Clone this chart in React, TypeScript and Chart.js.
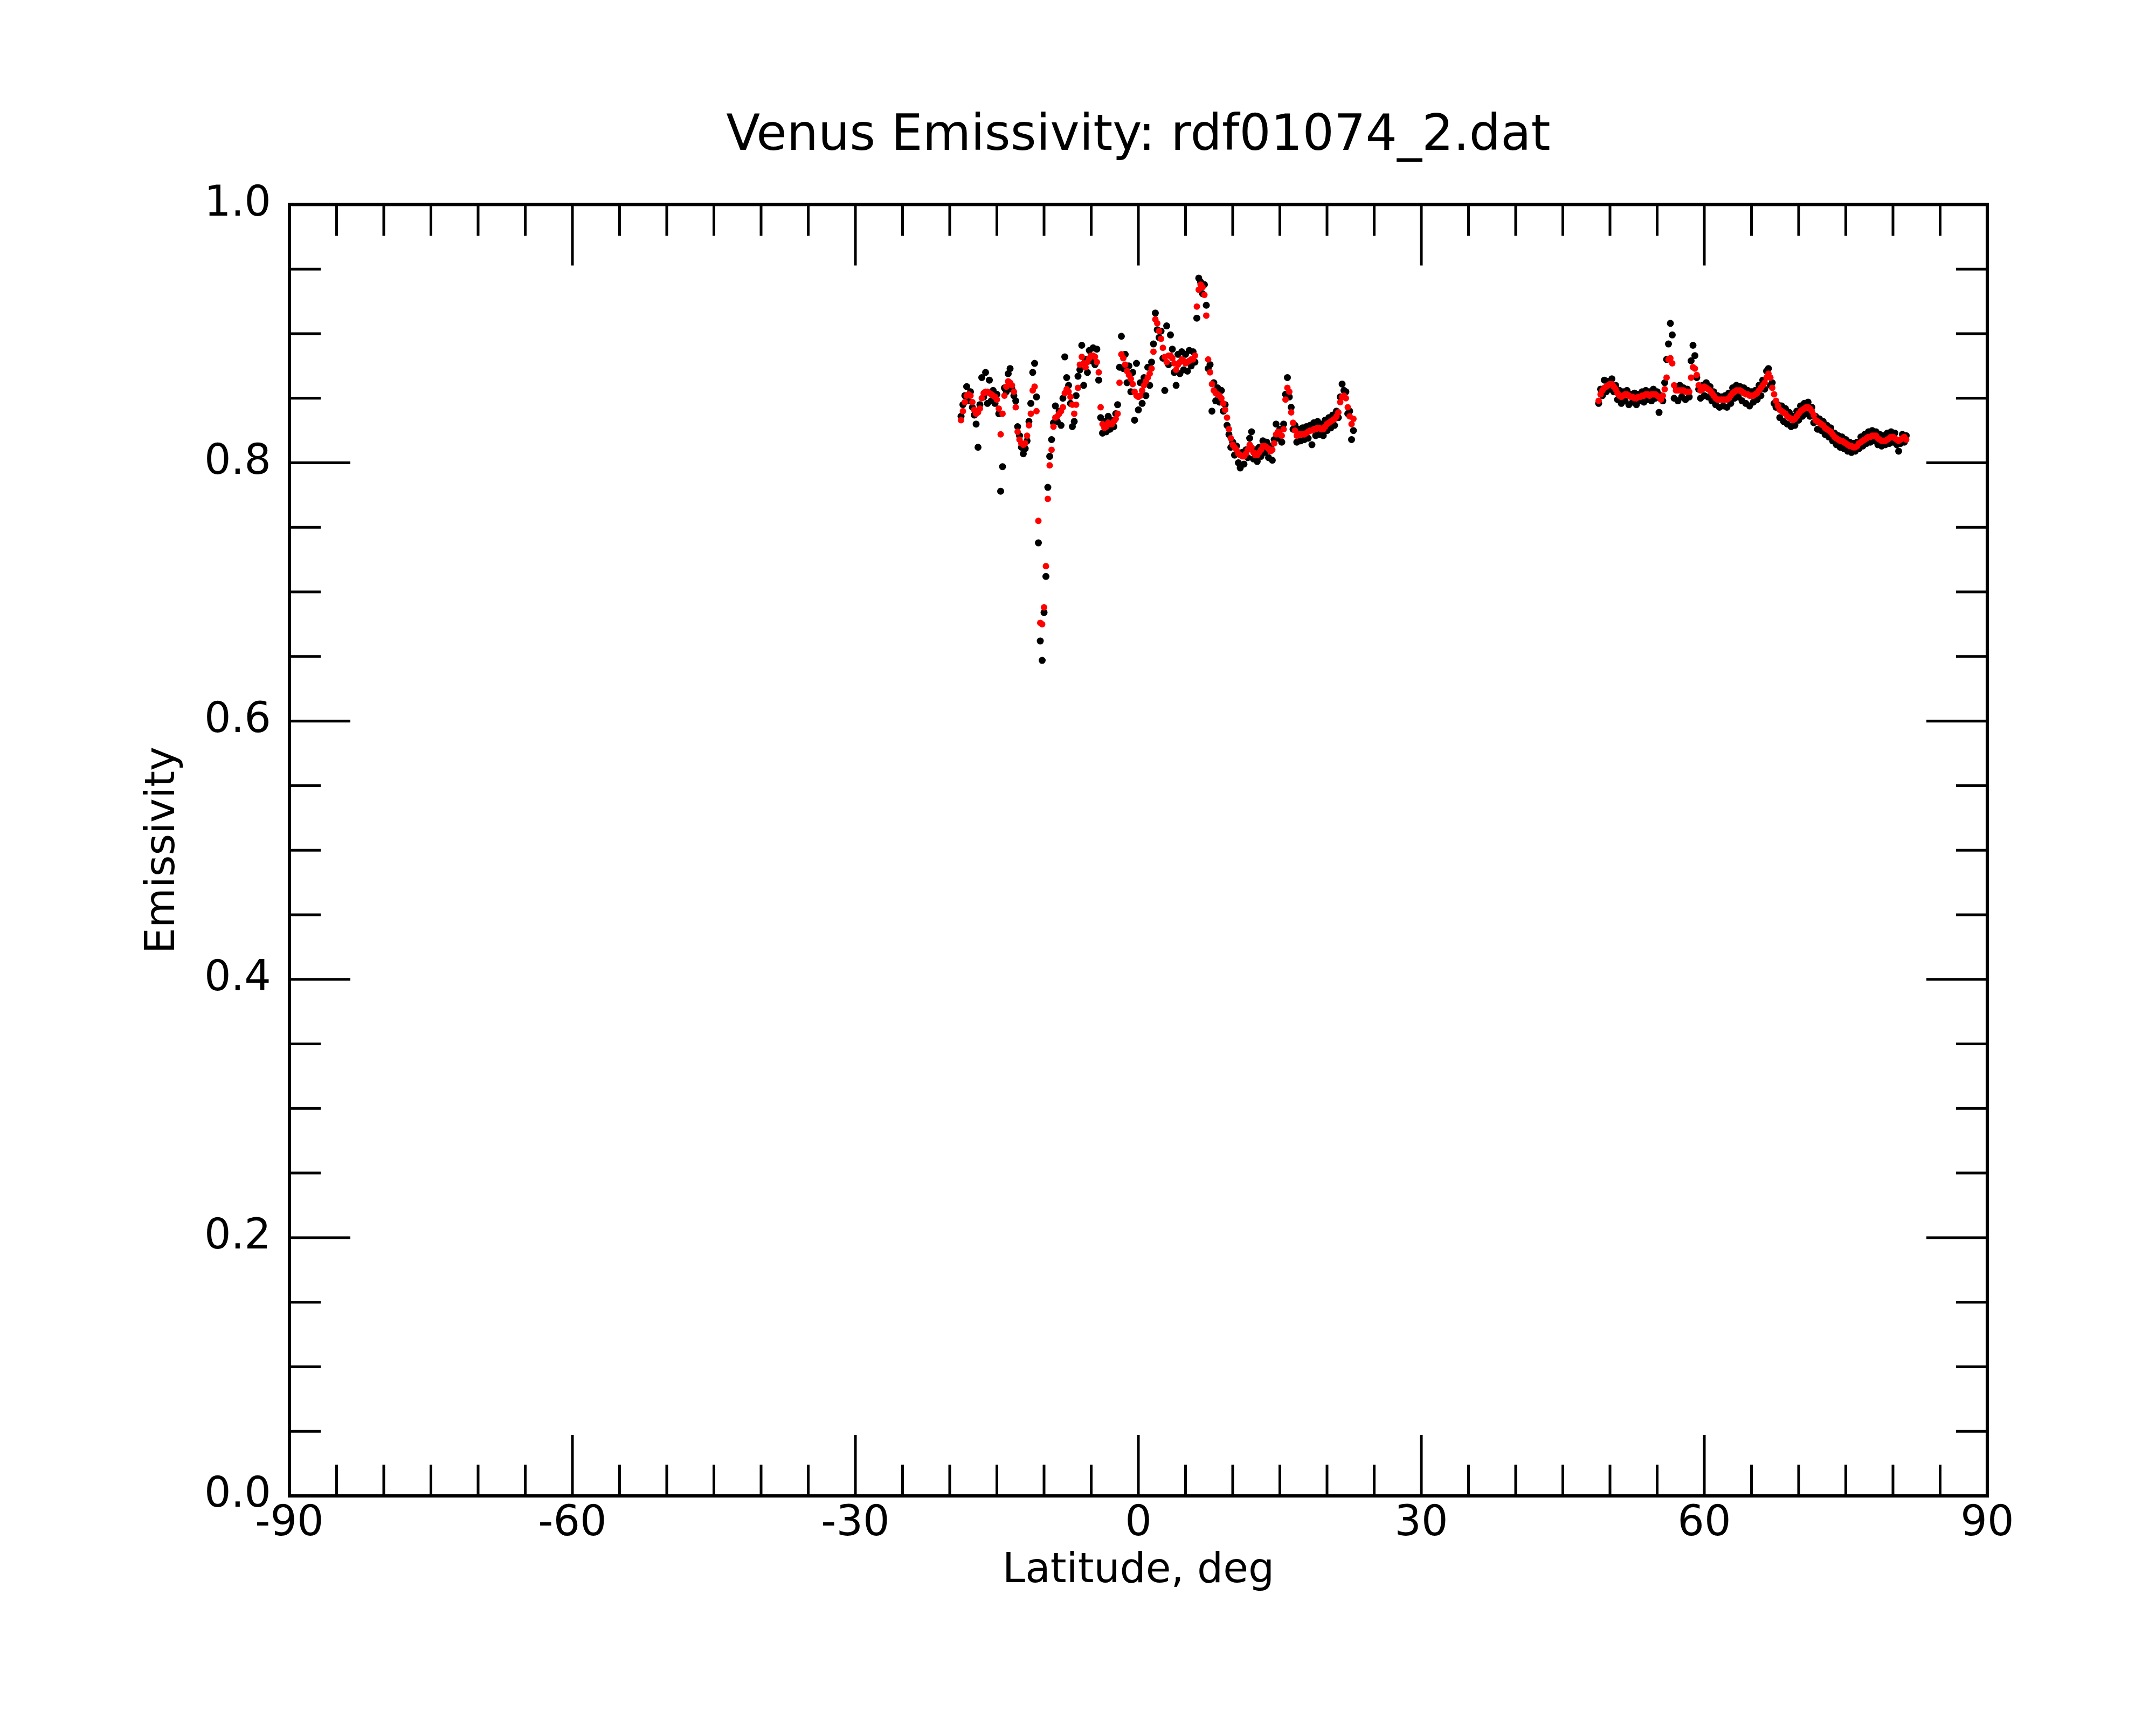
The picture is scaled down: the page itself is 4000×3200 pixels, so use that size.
import { useEffect, useRef } from 'react'
import { Chart, registerables } from 'chart.js'
Chart.register(...registerables)

// latitude grid of the samples (deg)
const LAT_STEP = 0.2
const SEG1_START = -18.8
const SEG2_START = 48.8

// smoothed emissivity (red), segment 1: -18.8 .. 22.8
const smooth1 = [
  0.833, 0.840, 0.847, 0.852, 0.853, 0.852, 0.847, 0.841, 0.838, 0.839,
  0.842, 0.850, 0.854, 0.855, 0.855, 0.854, 0.853, 0.852, 0.851, 0.849,
  0.842, 0.822, 0.838, 0.852, 0.859, 0.863, 0.862, 0.860, 0.855, 0.843,
  0.824, 0.818, 0.815, 0.814, 0.815, 0.821, 0.829, 0.838, 0.856, 0.859,
  0.840, 0.755, 0.676, 0.675, 0.688, 0.720, 0.772, 0.798, 0.810, 0.828,
  0.835, 0.836, 0.838, 0.840, 0.843, 0.854, 0.857, 0.855, 0.851, 0.845,
  0.838, 0.845, 0.858, 0.876, 0.882, 0.877, 0.874, 0.878, 0.881, 0.883,
  0.883, 0.882, 0.878, 0.870, 0.843, 0.830, 0.827, 0.828, 0.831, 0.830,
  0.830, 0.832, 0.834, 0.838, 0.862, 0.884, 0.881, 0.876, 0.871, 0.868,
  0.865, 0.861, 0.855, 0.852, 0.851, 0.852, 0.856, 0.860, 0.863, 0.866,
  0.869, 0.873, 0.886, 0.911, 0.908, 0.902, 0.896, 0.889, 0.882, 0.878,
  0.883, 0.883, 0.881, 0.877, 0.872, 0.876, 0.878, 0.880, 0.879, 0.877,
  0.878, 0.879, 0.880, 0.880, 0.883, 0.921, 0.934, 0.938, 0.936, 0.930,
  0.914, 0.880, 0.870, 0.861, 0.856, 0.854, 0.853, 0.852, 0.850, 0.846,
  0.841, 0.835, 0.826, 0.819, 0.814, 0.812, 0.810, 0.807, 0.806, 0.805,
  0.805, 0.807, 0.810, 0.814, 0.812, 0.808, 0.806, 0.806, 0.808, 0.810,
  0.813, 0.813, 0.812, 0.811, 0.809, 0.810, 0.815, 0.822, 0.824, 0.822,
  0.821, 0.826, 0.849, 0.858, 0.855, 0.839, 0.831, 0.825, 0.821, 0.822,
  0.822, 0.822, 0.822, 0.823, 0.824, 0.825, 0.825, 0.826, 0.826, 0.827,
  0.827, 0.826, 0.826, 0.828, 0.830, 0.831, 0.832, 0.833, 0.834, 0.836,
  0.839, 0.847, 0.851, 0.852, 0.850, 0.843, 0.836, 0.830, 0.834,
]

// raw emissivity (black), segment 1
const raw1 = [
  0.836, 0.845, 0.852, 0.859, 0.848, 0.855, 0.843, 0.837, 0.830, 0.812,
  0.845, 0.866, 0.851, 0.870, 0.846, 0.864, 0.848, 0.856, 0.846, 0.853,
  0.838, 0.778, 0.797, 0.858, 0.855, 0.869, 0.873, 0.857, 0.852, 0.848,
  0.828, 0.821, 0.812, 0.807, 0.811, 0.817, 0.832, 0.846, 0.870, 0.877,
  0.851, 0.738, 0.662, 0.647, 0.684, 0.712, 0.781, 0.805, 0.818, 0.831,
  0.844, 0.832, 0.840, 0.829, 0.850, 0.882, 0.866, 0.860, 0.846, 0.828,
  0.832, 0.852, 0.867, 0.872, 0.891, 0.860, 0.880, 0.870, 0.887, 0.879,
  0.889, 0.876, 0.888, 0.864, 0.835, 0.823, 0.832, 0.824, 0.836, 0.826,
  0.833, 0.828, 0.838, 0.845, 0.874, 0.898, 0.873, 0.884, 0.862, 0.875,
  0.855, 0.870, 0.833, 0.877, 0.841, 0.862, 0.846, 0.866, 0.852, 0.874,
  0.860, 0.878, 0.892, 0.916, 0.903, 0.897, 0.902, 0.881, 0.856, 0.906,
  0.876, 0.899, 0.888, 0.870, 0.860, 0.884, 0.869, 0.886, 0.872, 0.884,
  0.871, 0.887, 0.875, 0.886, 0.878, 0.912, 0.943, 0.940, 0.931, 0.938,
  0.922, 0.873, 0.876, 0.840, 0.862, 0.848, 0.858, 0.847, 0.856, 0.840,
  0.845, 0.829, 0.822, 0.812, 0.816, 0.806, 0.813, 0.800, 0.796, 0.808,
  0.799, 0.810, 0.804, 0.819, 0.824, 0.803, 0.810, 0.801, 0.812, 0.805,
  0.817, 0.808, 0.816, 0.804, 0.813, 0.802, 0.818, 0.830, 0.819, 0.826,
  0.816, 0.830, 0.853, 0.866, 0.851, 0.843, 0.826, 0.829, 0.816, 0.826,
  0.817, 0.827, 0.818, 0.828, 0.819, 0.829, 0.814, 0.831, 0.821, 0.832,
  0.822, 0.830, 0.821, 0.833, 0.825, 0.835, 0.827, 0.837, 0.829, 0.840,
  0.835, 0.851, 0.861, 0.856, 0.855, 0.838, 0.840, 0.818, 0.825,
]

// smoothed emissivity (red), segment 2: 48.8 .. 81.4
const smooth2 = [
  0.848, 0.853, 0.856, 0.858, 0.859, 0.860, 0.861, 0.861, 0.859, 0.857,
  0.854, 0.852, 0.851, 0.852, 0.853, 0.853, 0.852, 0.851, 0.851, 0.850,
  0.850, 0.851, 0.851, 0.852, 0.852, 0.853, 0.853, 0.852, 0.853, 0.853,
  0.853, 0.852, 0.851, 0.849, 0.852, 0.857, 0.866, 0.880, 0.881, 0.877,
  0.860, 0.856, 0.856, 0.856, 0.856, 0.856, 0.855, 0.855, 0.855, 0.866,
  0.874, 0.873, 0.868, 0.860, 0.856, 0.857, 0.859, 0.858, 0.857, 0.856,
  0.854, 0.852, 0.850, 0.849, 0.849, 0.849, 0.849, 0.849, 0.849, 0.850,
  0.852, 0.854, 0.855, 0.856, 0.856, 0.856, 0.855, 0.854, 0.853, 0.853,
  0.852, 0.852, 0.852, 0.853, 0.854, 0.856, 0.858, 0.860, 0.862, 0.866,
  0.869, 0.866, 0.858, 0.853, 0.848, 0.844, 0.841, 0.840, 0.839, 0.838,
  0.836, 0.835, 0.834, 0.833, 0.834, 0.836, 0.838, 0.840, 0.841, 0.842,
  0.843, 0.843, 0.842, 0.840, 0.837, 0.833, 0.832, 0.831, 0.830, 0.829,
  0.827, 0.826, 0.825, 0.824, 0.822, 0.820, 0.819, 0.818, 0.817, 0.817,
  0.816, 0.815, 0.814, 0.813, 0.813, 0.812, 0.812, 0.813, 0.815, 0.816,
  0.817, 0.818, 0.819, 0.820, 0.820, 0.821, 0.821, 0.821, 0.819, 0.818,
  0.817, 0.817, 0.817, 0.818, 0.819, 0.820, 0.820, 0.819, 0.818, 0.817,
  0.818, 0.819, 0.820, 0.818,
]

// raw emissivity (black), segment 2
const raw2 = [
  0.846, 0.857, 0.852, 0.864, 0.855, 0.863, 0.857, 0.865, 0.855, 0.860,
  0.849, 0.856, 0.846, 0.855, 0.848, 0.856, 0.845, 0.853, 0.847, 0.854,
  0.845, 0.853, 0.848, 0.855, 0.847, 0.856, 0.849, 0.855, 0.848, 0.857,
  0.850, 0.855, 0.839, 0.852, 0.848, 0.862, 0.880, 0.892, 0.908, 0.899,
  0.850, 0.859, 0.848, 0.860, 0.851, 0.858, 0.849, 0.857, 0.851, 0.879,
  0.891, 0.883, 0.866, 0.857, 0.850, 0.860, 0.852, 0.862, 0.851, 0.859,
  0.848, 0.855, 0.845, 0.852, 0.843, 0.851, 0.844, 0.852, 0.843, 0.854,
  0.846, 0.858, 0.850, 0.860, 0.851, 0.859, 0.848, 0.858, 0.846, 0.856,
  0.844, 0.855, 0.847, 0.856, 0.849, 0.860, 0.852, 0.864, 0.857, 0.871,
  0.873, 0.860, 0.862, 0.846, 0.843, 0.845, 0.835, 0.844, 0.832, 0.842,
  0.830, 0.839, 0.828, 0.836, 0.829, 0.840, 0.833, 0.844, 0.836, 0.846,
  0.838, 0.847, 0.836, 0.843, 0.831, 0.836, 0.826, 0.834, 0.825, 0.832,
  0.822, 0.829, 0.820, 0.827, 0.817, 0.823, 0.814, 0.821, 0.812, 0.820,
  0.811, 0.818, 0.809, 0.816, 0.808, 0.815, 0.809, 0.816, 0.811, 0.820,
  0.813, 0.822, 0.815, 0.824, 0.816, 0.825, 0.817, 0.824, 0.814, 0.822,
  0.813, 0.821, 0.814, 0.823, 0.815, 0.824, 0.816, 0.823, 0.814, 0.809,
  0.815, 0.822, 0.816, 0.821,
]

const toPoints = (start: number, values: number[]) =>
  values.map((v, i) => ({ x: +(start + i * LAT_STEP).toFixed(2), y: v }))

// inward ticks on all four sides plus the box, like the original plot
const frameTicks = {
  id: 'frameTicks',
  afterDraw(chart: any) {
    const { ctx, chartArea, scales } = chart
    const { left, right, top, bottom } = chartArea
    const x = scales.x
    const y = scales.y
    ctx.save()
    ctx.strokeStyle = '#000'
    ctx.lineWidth = 5
    ctx.beginPath()
    for (let lat = -90; lat <= 90; lat += 5) {
      const px = x.getPixelForValue(lat)
      const len = lat % 30 === 0 ? 113 : 58
      ctx.moveTo(px, bottom)
      ctx.lineTo(px, bottom - len)
      ctx.moveTo(px, top)
      ctx.lineTo(px, top + len)
    }
    for (let k = 0; k <= 20; k++) {
      const py = y.getPixelForValue(k * 0.05)
      const len = k % 4 === 0 ? 113 : 58
      ctx.moveTo(left, py)
      ctx.lineTo(left + len, py)
      ctx.moveTo(right, py)
      ctx.lineTo(right - len, py)
    }
    ctx.stroke()
    ctx.lineWidth = 6
    ctx.strokeRect(left, top, right - left, bottom - top)
    ctx.restore()
  },
}

export default function App() {
  const chartRef = useRef<HTMLCanvasElement>(null)
  const chartInstance = useRef<Chart | null>(null)

  useEffect(() => {
    if (!chartRef.current) return
    if (chartInstance.current) chartInstance.current.destroy()

    const ctx = chartRef.current.getContext('2d')
    if (!ctx) return

    const font = 'DejaVu Sans'

    chartInstance.current = new Chart(ctx, {
      type: 'scatter',
      data: {
        datasets: [
          {
            label: 'Smoothed',
            data: [...toPoints(SEG1_START, smooth1), ...toPoints(SEG2_START, smooth2)],
            backgroundColor: '#ff0000',
            borderWidth: 0,
            pointRadius: 6,
          },
          {
            label: 'Raw',
            data: [...toPoints(SEG1_START, raw1), ...toPoints(SEG2_START, raw2)],
            backgroundColor: '#000000',
            borderWidth: 0,
            pointRadius: 6.5,
          },
        ],
      },
      options: {
        responsive: false,
        animation: false,
        devicePixelRatio: 1,
        layout: { padding: { left: 0, right: 313, top: 0, bottom: 0 } },
        plugins: {
          legend: { display: false },
          tooltip: { enabled: false },
          title: {
            display: true,
            text: 'Venus Emissivity: rdf01074_2.dat',
            color: '#000',
            fullSize: false,
            font: { family: font, size: 92, weight: 'normal' },
            padding: { top: 199, bottom: 70 },
          },
        },
        scales: {
          x: {
            type: 'linear',
            min: -90,
            max: 90,
            grid: { display: false, drawTicks: false, tickLength: 0 },
            border: { display: false },
            ticks: {
              stepSize: 30,
              color: '#000',
              padding: 6,
              maxRotation: 0,
              font: { family: font, size: 78 },
            },
            title: {
              display: true,
              text: 'Latitude, deg',
              color: '#000',
              font: { family: font, size: 76 },
              padding: { top: 0, bottom: 239 },
            },
            afterFit: (scale: any) => {
              scale.height = 425
            },
          },
          y: {
            min: 0,
            max: 1,
            grid: { display: false, drawTicks: false, tickLength: 0 },
            border: { display: false },
            ticks: {
              stepSize: 0.2,
              color: '#000',
              padding: 34,
              font: { family: font, size: 78 },
              callback: (value: any) => Number(value).toFixed(1),
            },
            title: {
              display: true,
              text: 'Emissivity',
              color: '#000',
              font: { family: font, size: 76 },
              padding: { top: 258, bottom: 0 },
            },
            afterFit: (scale: any) => {
              scale.width = 537
            },
          },
        },
      },
      plugins: [frameTicks],
    })

    return () => {
      if (chartInstance.current) {
        chartInstance.current.destroy()
        chartInstance.current = null
      }
    }
  }, [])

  return (
    <div style={{ position: 'absolute', left: 0, top: 0, width: 4000, height: 3200, background: '#fff' }}>
      <canvas ref={chartRef} width={4000} height={3200} style={{ width: 4000, height: 3200 }} />
    </div>
  )
}
